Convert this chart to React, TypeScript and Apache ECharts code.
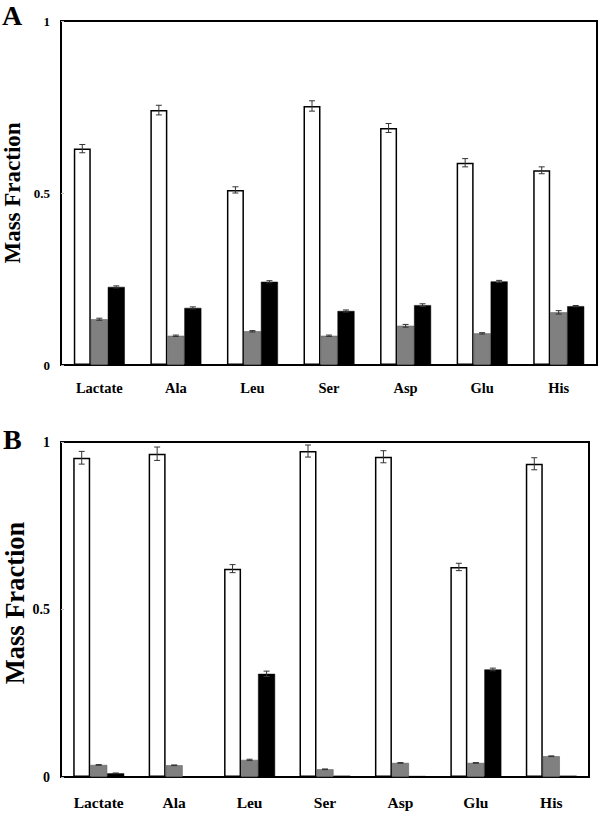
import React, { useEffect, useRef } from "react";
import * as echarts from "echarts";

const categories = ["Lactate", "Ala", "Leu", "Ser", "Asp", "Glu", "His"];
const yTicks = [0, 0.5, 1];
const yTitle = "Mass Fraction";

// Panel A
const aWhite = [0.629, 0.741, 0.509, 0.753, 0.689, 0.588, 0.566];
const aWhiteErr = [0.012, 0.014, 0.009, 0.015, 0.013, 0.012, 0.01];
const aGray = [0.133, 0.085, 0.098, 0.085, 0.114, 0.092, 0.153];
const aGrayErr = [0.003, 0.002, 0.002, 0.002, 0.004, 0.002, 0.005];
const aBlack = [0.227, 0.166, 0.242, 0.157, 0.174, 0.243, 0.171];
const aBlackErr = [0.003, 0.003, 0.003, 0.003, 0.004, 0.003, 0.002];

// Panel B
const bWhite = [0.953, 0.965, 0.622, 0.973, 0.956, 0.627, 0.935];
const bWhiteErr = [0.019, 0.02, 0.012, 0.018, 0.018, 0.011, 0.018];
const bGray = [0.036, 0.035, 0.051, 0.023, 0.042, 0.042, 0.062];
const bGrayErr = [0.001, 0.001, 0.002, 0.001, 0.001, 0.001, 0.001];
const bBlack = [0.011, 0.001, 0.308, 0.004, 0.003, 0.321, 0.004];
const bBlackErr = [0.001, 0, 0.008, 0, 0, 0.004, 0];

const FONT = '"Liberation Serif", "Times New Roman", serif';
const BAR_W = 17;

function errSeries(vals: number[], errs: number[], offset: number, gridIdx: number) {
  return {
    type: "custom",
    xAxisIndex: gridIdx,
    yAxisIndex: gridIdx,
    z: 10,
    silent: true,
    data: vals.map((v, i) => [i, v, errs[i]]),
    renderItem: (params: any, api: any) => {
      const i = api.value(0);
      const v = api.value(1);
      const e = api.value(2);
      if (!e) return null;
      const hi = api.coord([i, v + e]);
      const lo = api.coord([i, v - e]);
      const x = hi[0] + offset;
      const cap = 3;
      const style = { stroke: "#333", lineWidth: 1 };
      return {
        type: "group",
        children: [
          { type: "line", shape: { x1: x, y1: hi[1], x2: x, y2: lo[1] }, style },
          { type: "line", shape: { x1: x - cap, y1: hi[1], x2: x + cap, y2: hi[1] }, style },
          { type: "line", shape: { x1: x - cap, y1: lo[1], x2: x + cap, y2: lo[1] }, style },
        ],
      };
    },
  };
}

function barSeries(vals: number[], color: string, border: string, bw: number, gridIdx: number) {
  return {
    type: "bar",
    xAxisIndex: gridIdx,
    yAxisIndex: gridIdx,
    barWidth: BAR_W,
    barGap: "0%",
    data: vals,
    itemStyle: { color, borderColor: border, borderWidth: bw },
  };
}

export default function App() {
  const ref = useRef<HTMLDivElement>(null);
  useEffect(() => {
    if (!ref.current) return;
    const chart = echarts.init(ref.current, null, { renderer: "svg" });
    const xAxisBase = (gridIndex: number, fs: number, margin: number) => ({
      type: "category",
      gridIndex,
      data: categories,
      axisLine: { show: true, lineStyle: { color: "#000", width: 2 } },
      axisTick: { show: false },
      axisLabel: { fontFamily: FONT, fontWeight: "bold", fontSize: fs, color: "#000", margin },
    });
    const yAxisBase = (gridIndex: number, fs: number) => ({
      type: "value",
      gridIndex,
      min: yTicks[0],
      max: yTicks[yTicks.length - 1],
      interval: 0.5,
      axisLine: { show: true, lineStyle: { color: "#000", width: 2 } },
      axisTick: { show: true, inside: true, length: 3, lineStyle: { color: "#bbb" } },
      splitLine: { show: false },
      axisLabel: {
        fontFamily: FONT,
        fontWeight: "bold",
        fontSize: fs,
        color: "#000",
        margin: 11,
        formatter: (v: number) => String(v),
      },
    });
    chart.setOption({
      animation: false,
      backgroundColor: "#fff",
      grid: [
        { left: 61, top: 21, width: 536, height: 344, containLabel: false, outerBoundsMode: "none", show: true, borderColor: "#000", borderWidth: 2, backgroundColor: "transparent" },
        { left: 61, top: 442, width: 528, height: 335, containLabel: false, outerBoundsMode: "none", show: true, borderColor: "#000", borderWidth: 2, backgroundColor: "transparent" },
      ],
      xAxis: [xAxisBase(0, 14.5, 15), xAxisBase(1, 15.5, 17)],
      yAxis: [yAxisBase(0, 13), yAxisBase(1, 14)],
      graphic: [
        { type: "text", left: 2, top: 1, style: { text: "A", font: `bold 28px ${FONT}`, fill: "#000" } },
        { type: "text", left: 3, top: 425, style: { text: "B", font: `bold 28px ${FONT}`, fill: "#000" } },
        {
          type: "text", x: 12, y: 193, rotation: Math.PI / 2,
          style: { text: yTitle, font: `bold 23px ${FONT}`, fill: "#000", align: "center", verticalAlign: "middle" },
        },
        {
          type: "text", x: 14.5, y: 603, rotation: Math.PI / 2,
          style: { text: yTitle, font: `bold 26.5px ${FONT}`, fill: "#000", align: "center", verticalAlign: "middle" },
        },
      ],
      series: [
        barSeries(aWhite, "#fff", "#000", 1.5, 0),
        barSeries(aGray, "#808080", "#555", 0.5, 0),
        barSeries(aBlack, "#000", "#000", 0.5, 0),
        errSeries(aWhite, aWhiteErr, -BAR_W, 0),
        errSeries(aGray, aGrayErr, 0, 0),
        errSeries(aBlack, aBlackErr, BAR_W, 0),
        barSeries(bWhite, "#fff", "#000", 1.5, 1),
        barSeries(bGray, "#808080", "#555", 0.5, 1),
        barSeries(bBlack, "#000", "#000", 0.5, 1),
        errSeries(bWhite, bWhiteErr, -BAR_W, 1),
        errSeries(bGray, bGrayErr, 0, 1),
        errSeries(bBlack, bBlackErr, BAR_W, 1),
      ],
    });
    return () => chart.dispose();
  }, []);
  return (
    <div
      ref={ref}
      style={{ position: "absolute", left: 0, top: 0, width: 600, height: 814, background: "#fff" }}
    />
  );
}
